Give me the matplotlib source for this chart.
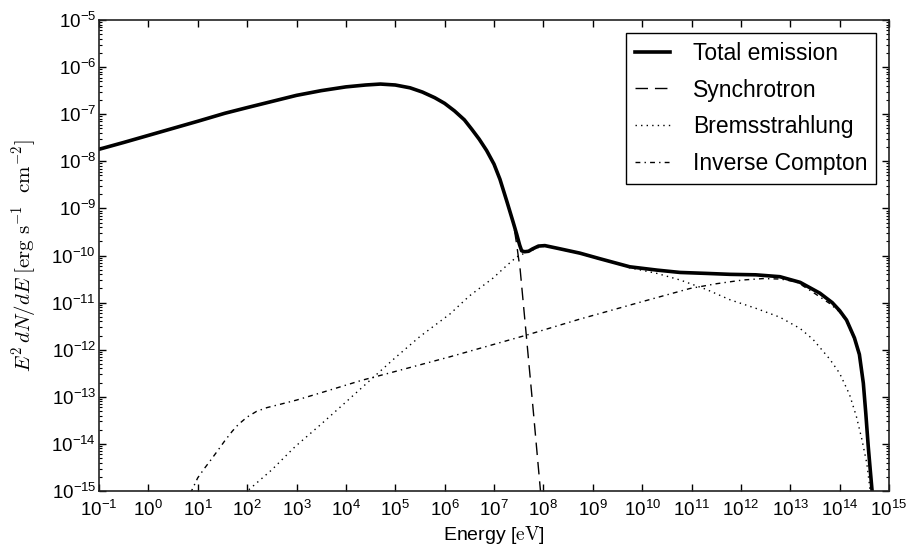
import numpy as np
import matplotlib
matplotlib.use("Agg")
import matplotlib.pyplot as plt
from matplotlib.ticker import FixedLocator, LogFormatterSciNotation, LogLocator, NullLocator

plt.rcParams['font.family'] = ['Liberation Sans', 'DejaVu Sans']
plt.rcParams['mathtext.fontset'] = 'cm'

# Spectral energy distribution: log10(E / eV) and log10(E^2 dN/dE / erg s^-1 cm^-2)
total_logE = [-1.0, -0.5, 0.0, 0.5, 1.0, 1.55, 2.0, 2.5, 3.0, 3.5, 4.0, 4.4, 4.7, 5.0,
              5.3, 5.55, 5.8, 6.0, 6.2, 6.4, 6.55, 6.7, 6.85, 7.0, 7.12, 7.26, 7.39,
              7.46, 7.52, 7.56, 7.62, 7.70, 7.78, 7.9, 8.03, 8.3, 8.74, 9.15, 9.75,
              10.3, 10.77, 11.3, 11.78, 12.3, 12.79, 13.2, 13.6, 13.85, 14.0, 14.14,
              14.3, 14.4, 14.48, 14.53, 14.58, 14.62, 14.67]
total_logF = [-7.745, -7.60, -7.45, -7.30, -7.15, -6.98, -6.86, -6.73, -6.60, -6.50,
              -6.42, -6.38, -6.36, -6.38, -6.44, -6.53, -6.65, -6.77, -6.93, -7.12,
              -7.32, -7.53, -7.77, -8.06, -8.38, -8.85, -9.30, -9.55, -9.78, -9.90,
              -9.92, -9.91, -9.86, -9.80, -9.79, -9.85, -9.95, -10.07, -10.24, -10.31,
              -10.36, -10.38, -10.40, -10.41, -10.45, -10.57, -10.80, -11.00, -11.17,
              -11.37, -11.75, -12.10, -12.71, -13.35, -14.06, -14.55, -15.15]

sync_logE = [-1.0, -0.5, 0.0, 0.5, 1.0, 1.55, 2.0, 2.5, 3.0, 3.5, 4.0, 4.4, 4.7, 5.0,
             5.3, 5.55, 5.8, 6.0, 6.2, 6.4, 6.55, 6.7, 6.85, 7.0, 7.12, 7.26, 7.39,
             7.45, 7.53, 7.65, 7.80, 7.95]
sync_logF = [-7.745, -7.60, -7.45, -7.30, -7.15, -6.98, -6.86, -6.73, -6.60, -6.50,
             -6.42, -6.38, -6.36, -6.38, -6.44, -6.53, -6.65, -6.77, -6.93, -7.12,
             -7.32, -7.53, -7.77, -8.06, -8.38, -8.85, -9.30, -9.70, -10.30, -11.65,
             -13.35, -15.10]

brems_logE = [1.95, 2.5, 2.97, 3.5, 3.98, 4.5, 5.0, 5.5, 6.11, 6.5, 6.98, 7.25, 7.46,
              7.6, 7.75, 7.9, 8.03, 8.3, 8.74, 9.15, 9.41, 9.75, 10.3, 10.77, 11.3,
              11.78, 12.3, 12.79, 13.2, 13.46, 13.8, 14.0, 14.2, 14.34, 14.45, 14.55,
              14.60, 14.63]
brems_logF = [-15.05, -14.55, -14.06, -13.58, -13.13, -12.64, -12.17, -11.72, -11.24,
              -10.86, -10.48, -10.22, -10.03, -9.96, -9.90, -9.83, -9.80, -9.86, -9.96,
              -10.08, -10.15, -10.26, -10.38, -10.52, -10.72, -10.94, -11.12, -11.31,
              -11.55, -11.78, -12.20, -12.50, -12.95, -13.42, -13.90, -14.41, -14.83,
              -15.15]

ic_logE = [0.85, 1.0, 1.15, 1.28, 1.42, 1.55, 1.7, 1.82, 2.0, 2.19, 2.4, 2.63, 3.0,
           3.51, 4.32, 4.83, 6.11, 7.66, 8.74, 9.15, 10.0, 10.97, 11.5, 12.04, 12.45,
           12.8, 13.13, 13.46, 13.8, 14.0, 14.14, 14.3, 14.4, 14.48, 14.53, 14.58,
           14.62, 14.67]
ic_logF = [-15.05, -14.72, -14.50, -14.32, -14.12, -13.93, -13.73, -13.59, -13.43,
           -13.31, -13.23, -13.17, -13.07, -12.91, -12.65, -12.51, -12.15, -11.69,
           -11.35, -11.23, -10.98, -10.70, -10.60, -10.52, -10.49, -10.50, -10.56,
           -10.78, -11.02, -11.20, -11.40, -11.78, -12.14, -12.74, -13.38, -14.10,
           -14.58, -15.15]

x_tick_exponents = list(range(-1, 16))
y_tick_exponents = list(range(-15, -4))

fig = plt.figure(figsize=(9.07, 5.51), dpi=100)
ax = fig.add_axes([99 / 907, 1 - 491 / 551, 790 / 907, 471 / 551])

def pw(a):
    return 10.0 ** np.asarray(a)

ax.plot(pw(total_logE), pw(total_logF), color='black', lw=2.6, label='Total emission')
ax.plot(pw(sync_logE), pw(sync_logF), color='black', lw=1.0, ls=(0, (9, 5)),
        label='Synchrotron')
ax.plot(pw(brems_logE), pw(brems_logF), color='black', lw=1.0, ls=(0, (1, 3)),
        label='Bremsstrahlung')
ax.plot(pw(ic_logE), pw(ic_logF), color='black', lw=1.0, ls=(0, (3.5, 3, 1, 3)),
        label='Inverse Compton')

ax.set_xscale('log')
ax.set_yscale('log')
ax.set_xlim(1e-1, 1e15)
ax.set_ylim(1e-15, 1e-5)

ax.xaxis.set_major_locator(FixedLocator(pw(x_tick_exponents)))
ax.xaxis.set_minor_locator(NullLocator())
ax.yaxis.set_major_locator(FixedLocator(pw(y_tick_exponents)))
ax.yaxis.set_minor_locator(LogLocator(base=10, subs=np.arange(2, 10), numticks=30))
ax.xaxis.set_major_formatter(LogFormatterSciNotation())
ax.yaxis.set_major_formatter(LogFormatterSciNotation())

ax.tick_params(which='both', direction='in', top=True, right=True, colors='black')
ax.tick_params(which='major', length=5, width=1.0, labelsize=13.5)
ax.tick_params(axis='x', which='major', pad=6.5)
ax.tick_params(axis='y', which='major', pad=2)
ax.tick_params(which='minor', length=2.5, width=0.8)
for lbl in ax.get_yticklabels():
    lbl.set_verticalalignment('center_baseline')
for sp in ax.spines.values():
    sp.set_linewidth(1.2)
    sp.set_color('#222222')

ax.set_xlabel(r'Energy [$\mathrm{eV}$]', fontsize=14, labelpad=3)
ax.set_ylabel(r'$E^2\,dN/dE\;[\mathrm{erg\ s^{-1}\ \ cm^{-2}}]$', fontsize=15,
              labelpad=9, math_fontfamily='cm')

leg = ax.legend(loc='upper right', fontsize=16.5, fancybox=False, framealpha=1,
                edgecolor='black', handlelength=1.5, handletextpad=1.0,
                labelspacing=0.6, borderpad=0.4, borderaxespad=0.55)
leg.get_frame().set_linewidth(1.0)

fig.savefig('out.png', dpi=100, facecolor='white')
